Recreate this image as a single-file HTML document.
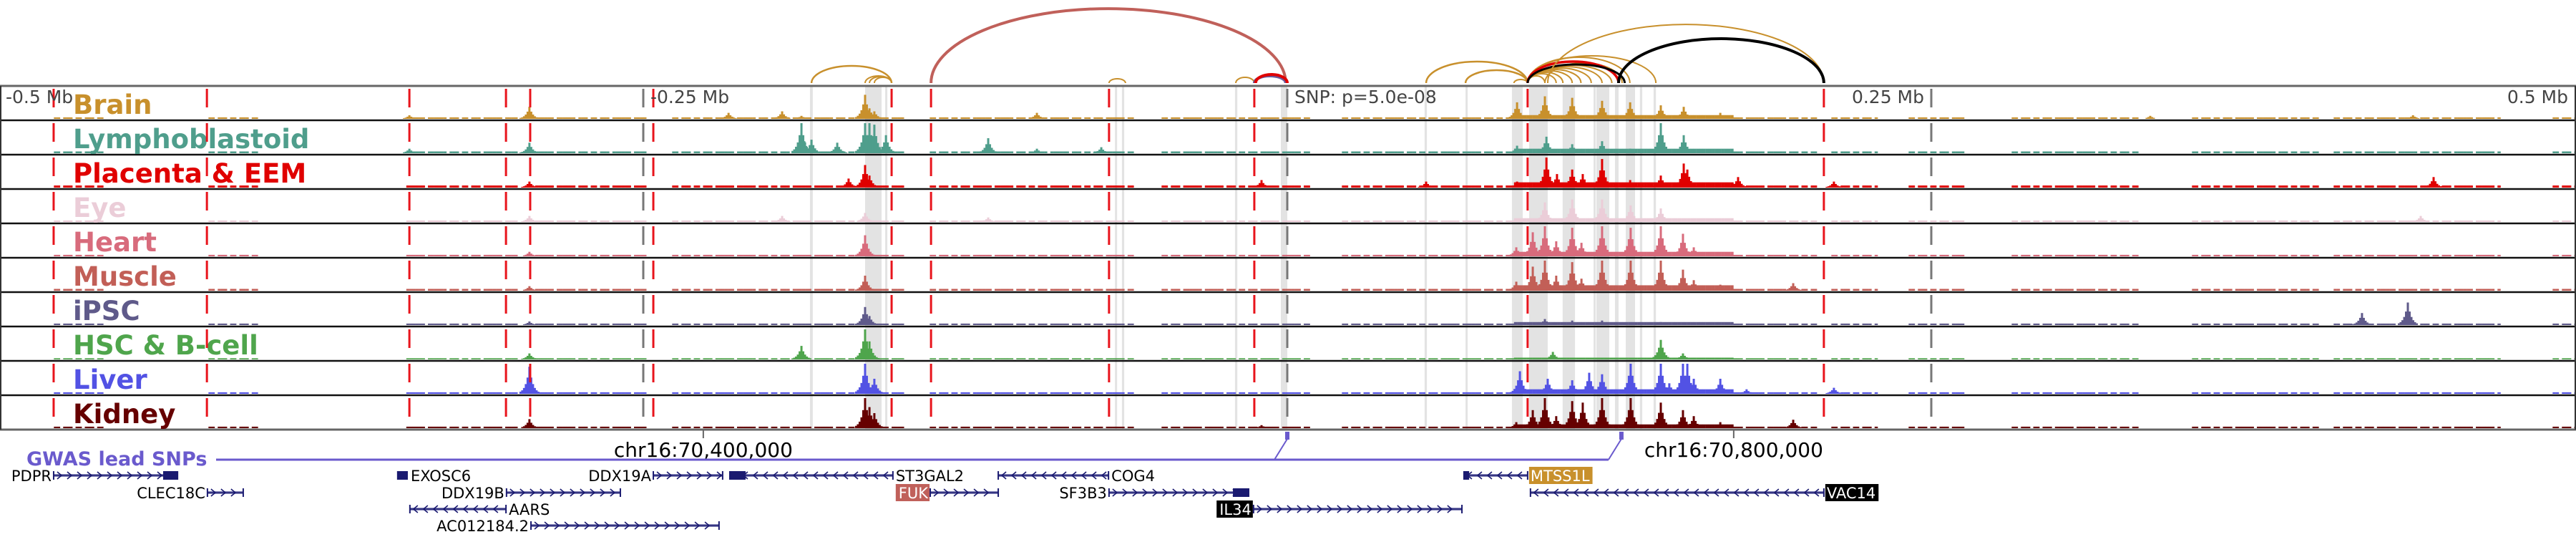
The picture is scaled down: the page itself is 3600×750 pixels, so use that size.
<!DOCTYPE html>
<html><head><meta charset="utf-8"><style>
html,body{margin:0;padding:0;background:#fff;width:3600px;height:750px;overflow:hidden}
svg{display:block}
text{font-family:"DejaVu Sans","Liberation Sans",sans-serif}
</style></head><body>
<svg id="fig" xmlns="http://www.w3.org/2000/svg" width="3600" height="750" viewBox="0 0 3600 750">
<g id="bands"></g>
<g id="tracks"></g>
<g id="vlines"></g>
<g id="arcs"></g>
<g id="axis"></g>
<g id="gwas"></g>
<g id="genes"></g>
</svg>
<script>
// ---- data (positions in kb relative to lead SNP) ----
const trackNames = ["Brain","Lymphoblastoid","Placenta & EEM","Eye","Heart","Muscle","iPSC","HSC & B-cell","Liver","Kidney"];
const trackColors = ["#c8902c","#4f9e8c","#e00000","#ebcdd8","#d86b7c","#c25f57","#5f5a8a","#4fa54c","#5252e4","#660000"];
const floorLevels = [0.05,0.06,0.07,0.05,0.05,0.06,0.05,0.04,0.05,0.05];
const clusterBoost = [2.5,2.5,2.5,2.5,3,3,2,1.5,3,2.5];
const floorSegments = [[-480,-460],[-420,-400],[-342,-300],[-292,-250],[-240,-150],[-140,-60],[-50,8],[20,88],[88,172],[172,205],[210,228],[240,262],[280,330],[350,400],[405,470],[490,500]];
const brainPeaks = [[-340.8,.12],[-294.2,.4],[-216.9,.2],[-196.1,.25],[-188.6,.1],[-163.9,.8],[-162.2,.35],[-160.3,.25],[-97.2,.2],[89.2,.55],[100,.75],[110.6,.7],[122.2,.6],[133.1,.55],[145,.45],[153.9,.4],[168.1,.2],[335,.1],[437,.12]];
const lymphoPeaks = [[-340.8,.15],[-294.2,.35],[-188.6,1],[-187.5,.4],[-184.7,.45],[-174.7,.35],[-163.9,1],[-162.2,1],[-160.3,.95],[-155.8,.6],[-116.1,.5],[-97.2,.15],[-72.2,.2],[89.2,.25],[100.6,.55],[110.6,.3],[122.2,.4],[133.1,.15],[145,1],[153.9,.6]];
const placentaPeaks = [[-294.2,.2],[-170.3,.3],[-163.9,.75],[-162.2,.4],[-10,.25],[53.9,.2],[89.2,.2],[100.6,1],[104.7,.45],[110.6,.6],[114.7,.45],[122.2,.95],[133.1,.25],[145,.4],[153.9,.8],[155.3,.6],[175,.35],[212.2,.2],[445,.35]];
const eyePeaks = [[-294.2,.2],[-196.1,.2],[-163.9,.3],[-116.1,.15],[100,.65],[110.6,.75],[122.2,.75],[133.3,.55],[145,.45],[440,.2]];
const heartPeaks = [[-294.2,.15],[-163.9,.7],[88.9,.3],[95.3,.8],[100,1],[104.4,.5],[110.6,.95],[114.2,.45],[122.2,1],[133.3,.95],[145,1],[153.6,.75],[157.8,.3]];
const musclePeaks = [[-294.2,.15],[-163.9,.5],[88.9,.3],[95.3,.8],[100,1],[104.4,.5],[110.6,.95],[114.2,.4],[122.2,1],[133.3,1],[145,1],[153.6,.7],[157.8,.35],[168.1,.2],[196.4,.25]];
const ipscPeaks = [[-294.2,.12],[-163.9,.6],[-162.2,.3],[100,.2],[110.6,.15],[122.2,.15],[145,.1],[417.2,.4],[435,.75]];
const hscPeaks = [[-294.2,.2],[-188.6,.45],[-163.9,1],[-162.2,.6],[103.1,.25],[145,.65],[153.6,.2]];
const liverPeaks = [[-294.2,.9],[-163.9,1],[-160.3,.5],[90.3,.75],[101.1,.5],[110.6,.45],[117.2,.7],[122.2,.65],[133.3,1],[145,1],[148.3,.35],[153.6,1],[155.3,1],[157.8,.5],[168.1,.5],[178.3,.15],[212.2,.2]];
const kidneyPeaks = [[-294.2,.3],[-163.9,1],[-162.2,.7],[-160.3,.5],[-10,.1],[88.9,.2],[95.3,.6],[100,1],[104.4,.4],[110.6,.9],[114.7,.85],[122.2,1],[133.3,1],[145,.85],[153.6,.6],[157.8,.4],[168.1,.2],[196.4,.28]];
const allPeaks = [brainPeaks,lymphoPeaks,placentaPeaks,eyePeaks,heartPeaks,musclePeaks,ipscPeaks,hscPeaks,liverPeaks,kidneyPeaks];
const redBoundaries = [-478.9,-419.4,-340.8,-303.3,-293.9,-246.1,-153.6,-138.3,-69.2,-12.8,93.3,208.3];
const greyTicks = [-250,0,250];
const bands = [[-185.3,-184.2],[-163.9,-157.5],[-156.1,-155.3],[-66.9,-66.1],[-64.2,-63.3],[-20.3,-19.4],[-2.5,0],[53.3,54.2],[69.2,70],[87.2,91.4],[93.9,101.1],[106.9,111.7],[118.9,119.7],[120,125],[127.2,128.6],[131.4,135],[136.9,137.8],[142.2,143.1]];
const arcStarts = [-184.7,-163.9,-162.2,-160.3,-138.3,-69.2,-20,-12.8,-12.3,53.9,69.2,88,93.3,93.3,93.3,93.3,93.3,93.3,93.3,93.3,93.3,93.3,100,93.3,93.3,101.1,128.6];
const arcEnds   = [-153.6,-153.6,-153.6,-153.6,-0.6,-62.8,-12.8,-0.6,0,93.3,93.3,93.3,100,104.4,107,110.6,114,118,122.2,126,133,143.1,130,128.6,131,208.3,208.3];
const arcHeights= [24,10,9,8,104,6,8,10,12,30,18,5,10,13,15,17,19,21,23,25,36,38,28,30,26,82,62];
const arcColors = ["#c8902c","#c8902c","#c8902c","#c8902c","#c0605a","#c8902c","#c8902c","#6a5a9a","#e00000","#c8902c","#c8902c","#c8902c","#c8902c","#c8902c","#c8902c","#c8902c","#c8902c","#c8902c","#c8902c","#c8902c","#c8902c","#c8902c","#c8902c","#e00000","#000000","#c8902c","#000000"];
const arcWidths = [2.5,2,2,2,4,2,2,4,4,2.5,2.5,2,2,2,2,2,2,2,2,2,2,2,2,3.5,3,2,4];
const axisLabels = ["-0.5 Mb","-0.25 Mb","SNP: p=5.0e-08","0.25 Mb","0.5 Mb"];
const axisLabelPos = [-500,-250,0,250,500];
const chrTickPos = [-226.7,173.3];
const chrTickLabels = ["chr16:70,400,000","chr16:70,800,000"];
const snpPos = [0,129.7];
const geneNames = ["PDPR","CLEC18C","EXOSC6","DDX19B","AARS","AC012184.2","DDX19A","ST3GAL2","FUK","COG4","SF3B3","IL34","MTSS1L","VAC14"];
const geneStarts = [-478.9,-419.2,-345.6,-303.1,-340.6,-293.6,-246.1,-216.4,-138.6,-112.2,-69.2,-13.1,68.6,94.4];
const geneEnds   = [-430.8,-405.3,-341.4,-258.9,-303.3,-220.6,-219.2,-153.1,-112.2,-69.4,-15,67.8,93.3,208.3];
const geneStrands= ["+","+","box","+","-","+","+","-","+","-","+","+","-","-"];
const geneRows   = [0,1,0,1,2,3,0,0,1,0,1,2,0,1];
const geneLabelSide = ["L","L","R","L","R","L","L","R","L","R","L","L","R","R"];
const geneHighlight = ["","","","","","","","","#c0605a","","","#000000","#c8902c","#000000"];
const geneBoxes = [[-436.4,-430.8],null,[-345.6,-341.4],null,null,null,null,[-216.4,-210.3],null,null,[-21.1,-15],null,[68.6,70.6],null];

// ---- scales ----
const NS="http://www.w3.org/2000/svg";
const X = kb => 1799 + kb*3.6;
const TOP=120, TH=48, PANEL_BOTTOM=600, BASE=116;
const trackBase = i => TOP + TH*i + 46;
const H = v => v*42;
function mk(tag, attrs, parent){const e=document.createElementNS(NS,tag);for(const k in attrs)e.setAttribute(k,attrs[k]);parent.appendChild(e);return e;}

const gB=document.getElementById('bands');
bands.forEach(b=>{
  const r=mk('rect',{x:X(b[0]),y:TOP,width:Math.max(3,X(b[1])-X(b[0])),height:PANEL_BOTTOM-TOP,fill:'#e3e3e3'},gB);
  
  
});

const gT=document.getElementById('tracks');
trackNames.forEach((nm,i)=>{
  const g=mk('g',{},gT);
  
  
  const base=trackBase(i), col=trackColors[i];
  floorSegments.forEach(s=>{
    const inCl = (s[0]>=88 && s[1]<=172);
    const lvl = inCl ? floorLevels[i]*clusterBoost[i] : floorLevels[i];
    for(let kb=s[0]; kb<s[1]; kb+=1.2){
      if(!inCl && Math.floor(kb*3)%5===0) continue;
      const r=mk('rect',{x:X(kb),y:base-H(lvl),width:4.5,height:H(lvl),fill:col},g);
      
      
    }
  });
  allPeaks[i].forEach(p=>{
    for(let k=-5;k<=5;k++){
      const v=p[1]*Math.pow(0.6,Math.abs(k));
      if(H(v)<1) continue;
      const r=mk('rect',{x:X(p[0])+k*2.5-1.5,y:base-H(v),width:3,height:H(v),fill:col},g);
      
      
    }
  });
  const sep=mk('line',{x1:0,x2:3600,y1:TOP+TH*(i+1),y2:TOP+TH*(i+1),stroke:i==9?'#666':'#111','stroke-width':i==9?3:2.5},g);
  
  
  const t=mk('text',{x:102,y:TOP+TH*i+39,'font-size':37,'font-weight':'bold',fill:col},g);
  t.textContent=nm;
  
  
});
const topLine=mk('line',{x1:0,x2:3600,y1:TOP,y2:TOP,stroke:'#666','stroke-width':3},gT);


const lb=mk('line',{x1:1,x2:1,y1:TOP,y2:PANEL_BOTTOM,stroke:'#333','stroke-width':2},gT);


const rb=mk('line',{x1:3599,x2:3599,y1:TOP,y2:PANEL_BOTTOM,stroke:'#333','stroke-width':2},gT);



const gV=document.getElementById('vlines');
redBoundaries.forEach(b=>{
  const l=mk('line',{x1:X(b),x2:X(b),y1:TOP,y2:PANEL_BOTTOM,stroke:'#e8141c','stroke-width':3,'stroke-dasharray':'26 22','stroke-dashoffset':'-4'},gV);
  
  
});
greyTicks.forEach(b=>{
  const l=mk('line',{x1:X(b),x2:X(b),y1:TOP,y2:PANEL_BOTTOM,stroke:'#777','stroke-width':3,'stroke-dasharray':'26 22','stroke-dashoffset':'-4'},gV);
  
  
});

const gA=document.getElementById('arcs');
arcStarts.forEach((s,i)=>{
  const x1=X(s), x2=X(arcEnds[i]), rx=(x2-x1)/2, ry=arcHeights[i];
  const p=mk('path',{d:`M${x1},${BASE} A${rx},${ry} 0 0 1 ${x2},${BASE}`,fill:'none',stroke:arcColors[i],'stroke-width':arcWidths[i]},gA);
  
  
});

const gX=document.getElementById('axis');
axisLabels.forEach((lab,i)=>{
  const pos=axisLabelPos[i];
  let x=X(pos)+10, anchor='start';
  if(pos===-500) x=8;
  if(pos>0){x=X(pos)-10;anchor='end';}
  const t=mk('text',{x:x,y:144,'font-size':25,fill:'#444','text-anchor':anchor},gX);
  t.textContent=lab;
  
  
});
chrTickPos.forEach((p,i)=>{
  const l=mk('line',{x1:X(p),x2:X(p),y1:601,y2:612,stroke:'#666','stroke-width':2},gX);
  
  
  const t=mk('text',{x:X(p),y:638,'font-size':28,fill:'#000','text-anchor':'middle'},gX);
  t.textContent=chrTickLabels[i];
  
  
});

const gG=document.getElementById('gwas');
const gt=mk('text',{x:37,y:650,'font-size':27,'font-weight':'bold',fill:'#6a5acd'},gG);
gt.textContent='GWAS lead SNPs';


const gl=mk('line',{x1:302,x2:X(snpPos[1])-18,y1:642,y2:642,stroke:'#6a5acd','stroke-width':3},gG);


snpPos.forEach(p=>{
  const c=mk('line',{x1:X(p)-18,y1:642,x2:X(p),y2:613,stroke:'#6a5acd','stroke-width':2},gG);
  
  
  const r=mk('rect',{x:X(p)-3,y:603,width:6,height:11,fill:'#6a5acd'},gG);
  
  
});

const gN=document.getElementById('genes');
const rowY=[664,688,711,734];
geneNames.forEach((nm,i)=>{
  const g=mk('g',{},gN);
  
  
  const y=rowY[geneRows[i]], x1=X(geneStarts[i]), x2=X(geneEnds[i]);
  if(geneStrands[i]!=='box'){
    const l=mk('line',{x1:x1,x2:x2,y1:y,y2:y,stroke:'#8888bb','stroke-width':4},g);
    
    
    const l2=mk('line',{x1:x1,x2:x2,y1:y,y2:y,stroke:'#1a1a70','stroke-width':1.5},g);
    
    
    [x1,x2].forEach(xx=>{const e=mk('line',{x1:xx,x2:xx,y1:y-6,y2:y+6,stroke:'#1a1a70','stroke-width':2},g);
      
      });
    const dir=geneStrands[i]==='+'?1:-1;
    for(let xx=x1+8; xx<x2-4; xx+=14){
      const c=mk('path',{d:`M${xx-3*dir},${y-5} L${xx+3*dir},${y} L${xx-3*dir},${y+5}`,fill:'none',stroke:'#1a1a70','stroke-width':1.6},g);
      
      
    }
  }
  const bx=geneBoxes[i];
  if(bx){const r=mk('rect',{x:X(bx[0]),y:y-6,width:X(bx[1])-X(bx[0]),height:12,fill:'#1a1a70'},g);
    
    }
  const left=geneLabelSide[i]==='L';
  const tx=left?x1-3:x2+4;
  const hl=geneHighlight[i];
  const t=mk('text',{x:tx,y:y+8,'font-size':21,fill:hl?'#fff':'#000','text-anchor':left?'end':'start'},g);
  t.textContent=nm;
  
  
  if(hl){
    const w=t.getComputedTextLength()+6;
    const bg=mk('rect',{x:left?tx-w+2:tx-2,y:y-12,width:w,height:24,fill:hl},g);
    
    
    g.appendChild(t);
  }
});
</script>
</body></html>
